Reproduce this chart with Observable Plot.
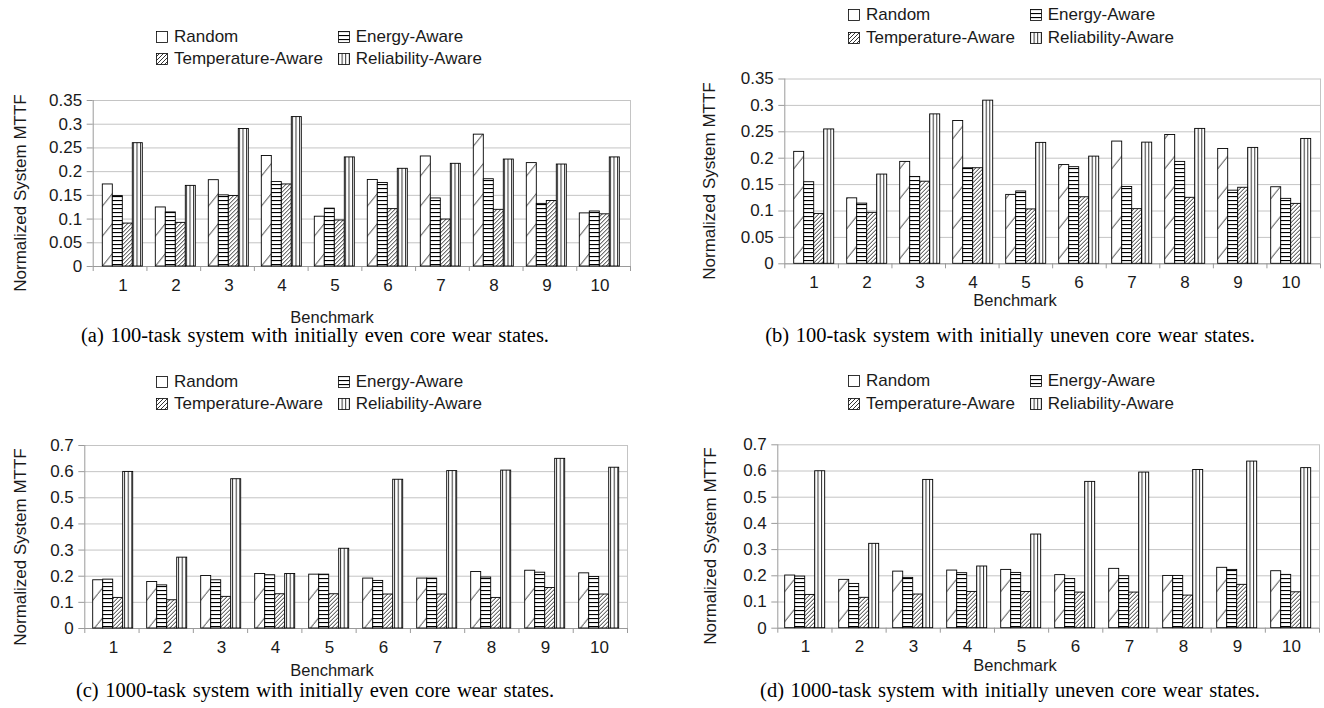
<!DOCTYPE html>
<html>
<head>
<meta charset="utf-8">
<script src="https://cdn.jsdelivr.net/npm/d3@7"></script>
<script src="https://cdn.jsdelivr.net/npm/@observablehq/plot@0.6"></script>
<style>
  html, body { margin: 0; padding: 0; background: #fff; }
  #chart { position: relative; width: 1324px; height: 708px; overflow: hidden; background: #fff;
           font-family: "Liberation Sans", Arial, sans-serif; color: #1a1a1a; }
  .layer { position: absolute; }
  .ytitle, .xtitle, .caption { position: absolute; white-space: nowrap; }
  .ytitle { font-size: 17px; transform: translate(-50%, -50%) rotate(-90deg); }
  .xtitle { font-size: 16.5px; transform: translate(-50%, -50%); }
  .caption { font-family: "Liberation Serif", "Times New Roman", serif; font-size: 20.5px; word-spacing: 1.5px;
             transform: translate(-50%, -50%); color: #000; }
  .legitem { position: absolute; display: flex; align-items: center; height: 22px; font-size: 17px; white-space: nowrap; }
  .legitem svg { margin-right: 6px; }
</style>
</head>
<body>
<svg width="0" height="0" style="position:absolute;left:0;top:0">
  <defs>
    <pattern id="pRandom" patternUnits="userSpaceOnUse" width="24" height="30">
      <rect width="24" height="30" fill="#fff"/>
      <line x1="0" y1="30" x2="24" y2="0" stroke="#000" stroke-width="0.8"/>
    </pattern>
    <pattern id="pEnergy" patternUnits="userSpaceOnUse" width="10" height="4">
      <rect width="10" height="4" fill="#fff"/>
      <rect y="0" width="10" height="1.1" fill="#000"/>
    </pattern>
    <pattern id="pTemp" patternUnits="userSpaceOnUse" width="4" height="4">
      <rect width="4" height="4" fill="#fff"/>
      <path d="M-1,1 L1,-1 M0,4 L4,0 M3,5 L5,3" stroke="#000" stroke-width="0.8"/>
    </pattern>
    <pattern id="pRel" patternUnits="userSpaceOnUse" width="3.6" height="10">
      <rect width="3.6" height="10" fill="#fff"/>
      <rect x="0" width="1" height="10" fill="#333"/>
    </pattern>
  </defs>
</svg>
<div id="chart"></div>
<script>
// ---------- data ----------
const benchmarks = [1, 2, 3, 4, 5, 6, 7, 8, 9, 10];
const seriesNames = ["Random", "Energy-Aware", "Temperature-Aware", "Reliability-Aware"];

// (a) 100-task, even
const aRandom = [0.173, 0.1245, 0.182, 0.233, 0.105, 0.1825, 0.232, 0.278, 0.218, 0.112];
const aEnergy = [0.1485, 0.114, 0.150, 0.178, 0.122, 0.176, 0.1435, 0.184, 0.132, 0.116];
const aTemp   = [0.0905, 0.092, 0.1485, 0.173, 0.097, 0.121, 0.099, 0.1195, 0.138, 0.110];
const aRel    = [0.260, 0.170, 0.290, 0.315, 0.230, 0.206, 0.2165, 0.2255, 0.215, 0.230];
// (b) 100-task, uneven
const bRandom = [0.212, 0.124, 0.193, 0.2705, 0.1305, 0.187, 0.2315, 0.244, 0.2175, 0.145];
const bEnergy = [0.1545, 0.114, 0.1645, 0.181, 0.137, 0.183, 0.1455, 0.193, 0.1385, 0.123];
const bTemp   = [0.0945, 0.0965, 0.1555, 0.181, 0.103, 0.126, 0.1035, 0.125, 0.144, 0.1135];
const bRel    = [0.2545, 0.169, 0.283, 0.309, 0.229, 0.203, 0.2295, 0.2555, 0.2195, 0.2365];
// (c) 1000-task, even
const cRandom = [0.1845, 0.178, 0.201, 0.2085, 0.206, 0.191, 0.191, 0.216, 0.221, 0.211];
const cEnergy = [0.187, 0.165, 0.1845, 0.2035, 0.206, 0.182, 0.191, 0.195, 0.2135, 0.197];
const cTemp   = [0.117, 0.108, 0.121, 0.131, 0.131, 0.130, 0.130, 0.117, 0.155, 0.130];
const cRel    = [0.599, 0.271, 0.571, 0.2085, 0.305, 0.569, 0.602, 0.604, 0.649, 0.615];
// (d) 1000-task, uneven
const dRandom = [0.201, 0.1845, 0.216, 0.220, 0.2225, 0.2025, 0.2265, 0.1995, 0.2305, 0.2175];
const dEnergy = [0.197, 0.169, 0.192, 0.210, 0.211, 0.188, 0.1985, 0.1995, 0.2225, 0.2035];
const dTemp   = [0.127, 0.116, 0.1285, 0.1385, 0.138, 0.136, 0.136, 0.1245, 0.1655, 0.137];
const dRel    = [0.599, 0.322, 0.566, 0.2355, 0.3575, 0.5585, 0.594, 0.604, 0.636, 0.611];

const ticksSmall = [0, 0.05, 0.1, 0.15, 0.2, 0.25, 0.3, 0.35];
const ticksLarge = [0, 0.1, 0.2, 0.3, 0.4, 0.5, 0.6, 0.7];
const boundaryTicks = [0, 1, 2, 3, 4, 5, 6, 7, 8, 9, 10];

const yTitle = "Normalized System MTTF";
const xTitle = "Benchmark";
const captions = [
  "(a) 100-task system with initially even core wear states.",
  "(b) 100-task system with initially uneven core wear states.",
  "(c) 1000-task system with initially even core wear states.",
  "(d) 1000-task system with initially uneven core wear states."
];

// ---------- styling / layout ----------
const patternFill = {
  "Random": "url(#pRandom)",
  "Energy-Aware": "url(#pEnergy)",
  "Temperature-Aware": "url(#pTemp)",
  "Reliability-Aware": "url(#pRel)"
};
const SVG_W = 662, SVG_H = 354;
const panels = [
  {values: [aRandom, aEnergy, aTemp, aRel], ymax: 0.35, ticks: ticksSmall, caption: captions[0],
   sx: 0, sy: 0, pl: 92.7, pr: 630, pt: 100, pb: 266,
   legX: 156, titleX: 21, benchX: 332, benchY: 317, capX: 315, capY: 335},
  {values: [bRandom, bEnergy, bTemp, bRel], ymax: 0.35, ticks: ticksSmall, caption: captions[1],
   sx: 662, sy: 0, pl: 784.3, pr: 1320, pt: 78.5, pb: 263.3,
   legX: 848, titleX: 710, benchX: 1015, benchY: 300, capX: 1010, capY: 335},
  {values: [cRandom, cEnergy, cTemp, cRel], ymax: 0.7, ticks: ticksLarge, caption: captions[2],
   sx: 0, sy: 354, pl: 84.3, pr: 627, pt: 445, pb: 628,
   legX: 156, titleX: 21, benchX: 332, benchY: 670, capX: 315, capY: 690},
  {values: [dRandom, dEnergy, dTemp, dRel], ymax: 0.7, ticks: ticksLarge, caption: captions[3],
   sx: 662, sy: 354, pl: 777.3, pr: 1319, pt: 444.3, pb: 627.7,
   legX: 848, titleX: 711, benchX: 1015, benchY: 665, capX: 1010, capY: 690}
];

const fmt = d => String(+d.toFixed(2));
const chart = document.getElementById("chart");
const baseStyle = {fontFamily: "'Liberation Sans', Arial, sans-serif", fontSize: "17px", color: "#1a1a1a",
                   background: "transparent", overflow: "visible"};

function place(el, x, y) {
  el.classList.add("layer");
  el.style.left = x + "px";
  el.style.top = y + "px";
  chart.appendChild(el);
}

function swatch(fill) {
  const ns = "http://www.w3.org/2000/svg";
  const s = document.createElementNS(ns, "svg");
  s.setAttribute("width", 12); s.setAttribute("height", 12);
  const r = document.createElementNS(ns, "rect");
  r.setAttribute("x", 0.5); r.setAttribute("y", 0.5);
  r.setAttribute("width", 11); r.setAttribute("height", 11);
  r.setAttribute("fill", fill); r.setAttribute("stroke", "#000"); r.setAttribute("stroke-width", 0.8);
  s.appendChild(r);
  return s;
}

for (const p of panels) {
  const margins = {
    marginLeft: p.pl - p.sx, marginRight: p.sx + SVG_W - p.pr,
    marginTop: p.pt - p.sy, marginBottom: p.sy + SVG_H - p.pb
  };

  const bg = Plot.plot({
    width: SVG_W, height: SVG_H, ...margins, style: baseStyle,
    x: {domain: [0, 10], axis: null},
    y: {domain: [0, p.ymax], axis: null},
    marks: [
      Plot.gridY(p.ticks, {stroke: "#c4c4c4", strokeOpacity: 1, strokeWidth: 1}),
      Plot.ruleX([10], {stroke: "#c4c4c4", strokeWidth: 1}),
      Plot.axisY(p.ticks, {tickSize: 6, tickPadding: 5, tickFormat: fmt, stroke: "#9a9a9a", strokeOpacity: 1,
                           fill: "#1a1a1a", label: null}),
      Plot.ruleX([0], {stroke: "#9a9a9a", strokeWidth: 1}),
      Plot.ruleY([0], {stroke: "#9a9a9a", strokeWidth: 1}),
      Plot.axisX(boundaryTicks, {tickSize: 5, tickFormat: () => "", stroke: "#9a9a9a", strokeOpacity: 1, label: null})
    ]
  });
  place(bg, p.sx, p.sy);

  const rows = [];
  benchmarks.forEach((b, i) => p.values.forEach((arr, j) => rows.push({bench: b, series: seriesNames[j], value: arr[i]})));
  const fg = Plot.plot({
    width: SVG_W, height: SVG_H, ...margins, style: baseStyle,
    fx: {domain: benchmarks, padding: 0, axis: "bottom", tickSize: 0, tickPadding: 12, label: null},
    x: {domain: seriesNames, paddingInner: 0, paddingOuter: 0.5, axis: null},
    y: {domain: [0, p.ymax], axis: null},
    marks: seriesNames.map(s => Plot.barY(rows.filter(r => r.series === s),
      {fx: "bench", x: "series", y: "value", fill: patternFill[s], stroke: "#000", strokeWidth: 0.9}))
  });
  place(fg, p.sx, p.sy);

  const row1 = p.pt - 63.3, rowGap = 22.5;
  seriesNames.forEach((s, k) => {
    const item = document.createElement("div");
    item.className = "legitem";
    item.appendChild(swatch(patternFill[s]));
    const t = document.createElement("span");
    t.textContent = s;
    item.appendChild(t);
    item.style.left = (p.legX + (k % 2) * 181.7) + "px";
    item.style.top = (row1 + Math.floor(k / 2) * rowGap - 11) + "px";
    chart.appendChild(item);
  });

  const yt = document.createElement("div");
  yt.className = "ytitle"; yt.textContent = yTitle;
  yt.style.left = p.titleX + "px"; yt.style.top = ((p.pt + p.pb + 20) / 2) + "px";
  chart.appendChild(yt);

  const xt = document.createElement("div");
  xt.className = "xtitle"; xt.textContent = xTitle;
  xt.style.left = p.benchX + "px"; xt.style.top = p.benchY + "px";
  chart.appendChild(xt);

  const cap = document.createElement("div");
  cap.className = "caption"; cap.textContent = p.caption;
  cap.style.left = p.capX + "px"; cap.style.top = p.capY + "px";
  chart.appendChild(cap);
}
</script>
</body>
</html>
